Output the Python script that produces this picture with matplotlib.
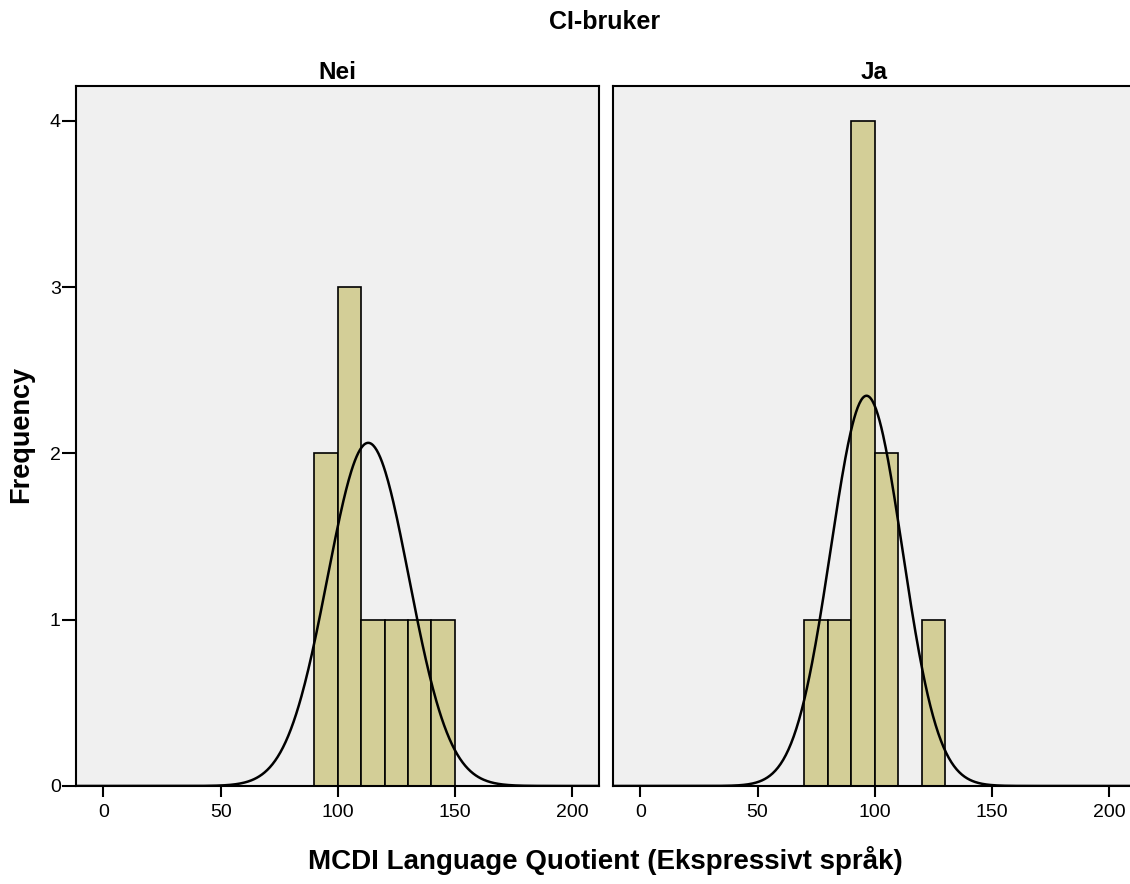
import numpy as np
from matplotlib import pyplot as plt

plt.rcParams['font.family'] = ['Liberation Sans', 'DejaVu Sans']

# histogram bins (left edges, width 10) and counts per panel
bin_width = 10
nei_bins = [90, 100, 110, 120, 130, 140]
nei_counts = [2, 3, 1, 1, 1, 1]
ja_bins = [70, 80, 90, 100, 110, 120]
ja_counts = [1, 1, 4, 2, 0, 1]

# fitted normal curves: mean, std dev, N
nei_mean, nei_sd, nei_n = 113.0, 17.4, 9
ja_mean, ja_sd, ja_n = 96.5, 15.3, 9

panel_titles = ['Nei', 'Ja']
x_ticks = [0, 50, 100, 150, 200]
y_ticks = [0, 1, 2, 3, 4]

bar_color = '#d3ce97'
bg_color = '#f0f0f0'

fig = plt.figure(figsize=(11.3, 8.84), dpi=100)
ax1 = fig.add_axes([0.0673, 0.1109, 0.4628, 0.7919])
ax2 = fig.add_axes([0.5425, 0.1109, 0.4628, 0.7919])

panels = [
    (ax1, nei_bins, nei_counts, nei_mean, nei_sd, nei_n),
    (ax2, ja_bins, ja_counts, ja_mean, ja_sd, ja_n),
]

xs = np.linspace(-12, 212, 600)
for i, (ax, bins, counts, mu, sd, n) in enumerate(panels):
    ax.set_facecolor(bg_color)
    ax.bar(bins, counts, width=bin_width, align='edge', color=bar_color,
           edgecolor='black', linewidth=1.2, zorder=2)
    ys = n * bin_width * np.exp(-0.5 * ((xs - mu) / sd) ** 2) / (sd * np.sqrt(2 * np.pi))
    ax.plot(xs, ys, color='black', linewidth=1.8, zorder=3)
    ax.set_xlim(-11.7, 211.5)
    ax.set_ylim(0, 4.21)
    ax.set_xticks(x_ticks)
    ax.tick_params(axis='x', direction='out', length=8, width=1.5, labelsize=14, pad=5)
    ax.tick_params(axis='y', direction='out', length=10, width=1.5, labelsize=14, pad=1)
    for s in ax.spines.values():
        s.set_linewidth(1.5)
    ax.set_title(panel_titles[i], fontsize=17.5, fontweight='bold', pad=5)
    if i == 0:
        ax.set_yticks(y_ticks)
    else:
        ax.set_yticks([])

fig.text(0.535, 0.975, 'CI-bruker', ha='center', va='center', fontsize=18, fontweight='bold')
fig.text(0.536, 0.027, 'MCDI Language Quotient (Ekspressivt språk)', ha='center', va='center',
         fontsize=20, fontweight='bold')
fig.text(0.019, 0.508, 'Frequency', ha='center', va='center', rotation=90,
         fontsize=19.5, fontweight='bold')

fig.savefig('out.png', dpi=100)
